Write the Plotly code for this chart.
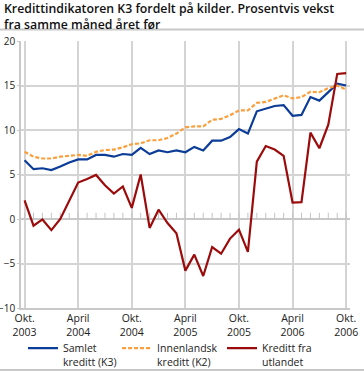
import plotly.graph_objects as go

months = list(range(37))  # Okt 2003 .. Okt 2006
tick_pos = [0, 6, 12, 18, 24, 30, 36]
tick_labels = ["Okt.<br>2003", "April<br>2004", "Okt.<br>2004", "April<br>2005",
               "Okt.<br>2005", "April<br>2006", "Okt.<br>2006"]

samlet_k3 = [6.6, 5.6, 5.7, 5.5, 5.9, 6.35, 6.7, 6.7, 7.2, 7.2, 7.0, 7.3, 7.2,
             8.0, 7.3, 7.7, 7.5, 7.7, 7.5, 8.1, 7.7, 8.8, 8.8, 9.2, 10.1, 9.6,
             12.1, 12.4, 12.7, 12.8, 11.6, 11.7, 13.7, 13.3, 14.2, 15.2, 15.0]
innenlandsk_k2 = [7.55, 7.0, 6.8, 6.8, 7.0, 7.1, 7.2, 7.1, 7.55, 7.75, 7.8, 8.05, 8.4,
                  8.5, 8.85, 8.85, 9.1, 9.6, 10.3, 10.4, 10.4, 11.15, 11.25, 11.65, 12.2, 12.2,
                  13.05, 13.15, 13.5, 13.9, 13.55, 13.7, 14.3, 14.25, 14.7, 15.0, 14.55]
utlandet = [2.1, -0.75, -0.05, -1.25, 0.0, 2.1, 4.1, 4.5, 4.95, 3.8, 2.85, 3.65, 1.25,
            5.0, -1.0, 1.05, -0.45, -1.6, -5.8, -4.0, -6.4, -3.15, -3.9, -2.2, -1.2, -3.7,
            6.45, 8.2, 7.8, 7.1, 1.85, 1.9, 9.7, 7.95, 10.6, 16.3, 16.4]

names = ["Samlet<br>kreditt (K3)", "Innenlandsk<br>kreditt (K2)", "Kreditt fra<br>utlandet"]
colors = ["#0b3c97", "#fa9f3c", "#9b0b0b"]
title_text = "Kredittindikatoren K3 fordelt på kilder. Prosentvis vekst<br>fra samme måned året før"

FONT = "Open Sans"
grid = "#d4d4d4"

fig = go.Figure()
# month tick marks standing on the zero line (category axis ticks of the original)
fig.add_trace(go.Scatter(x=months, y=[0] * len(months), mode="markers", showlegend=False,
                         hoverinfo="skip", marker=dict(size=1, opacity=0),
                         error_y=dict(type="constant", value=0.7, valueminus=0, symmetric=False,
                                      color="#c4c4c4", thickness=1, width=0)))
fig.add_trace(go.Scatter(x=months, y=samlet_k3, mode="lines", name=names[0], legend="legend",
                         line=dict(color=colors[0], width=2.2)))
fig.add_trace(go.Scatter(x=months, y=innenlandsk_k2, mode="lines", name=names[1], legend="legend2",
                         line=dict(color=colors[1], width=2.2, dash="4px,2px")))
fig.add_trace(go.Scatter(x=months, y=utlandet, mode="lines", name=names[2], legend="legend3",
                         line=dict(color=colors[2], width=2.2)))

leg_common = dict(orientation="h", xanchor="left", y=-0.10, yanchor="top", valign="top",
                  font=dict(family=FONT, size=10.5, color="#222"), bgcolor="rgba(0,0,0,0)")

xr = [-0.4, 36.43]
fig.update_layout(
    width=364, height=371,
    margin=dict(l=21, r=14, t=41, b=63, autoexpand=False),
    paper_bgcolor="white", plot_bgcolor="white",
    font=dict(family=FONT, size=10, color="#222"),
    xaxis=dict(range=xr, tickvals=tick_pos, ticktext=tick_labels, showgrid=True,
               gridcolor=grid, gridwidth=1.5, zeroline=False, showline=True,
               linecolor="#c8c8c8", linewidth=1.5, ticks="", fixedrange=True,
               tickfont=dict(size=10.5)),
    yaxis=dict(range=[-10, 20], dtick=5, showgrid=True, gridcolor=grid, gridwidth=1.5,
               zeroline=True, zerolinecolor="#c8c8c8", zerolinewidth=1.5,
               showline=True, linecolor="#c8c8c8", linewidth=1.5,
               ticks="outside", ticklen=2, tickcolor="#c8c8c8", tickfont=dict(size=10)),
    legend=dict(x=0.006, **leg_common),
    legend2=dict(x=0.292, **leg_common),
    legend3=dict(x=0.611, **leg_common),
    annotations=[
        dict(text=title_text, xref="paper", yref="paper", x=-0.057, y=1.16,
             xanchor="left", yanchor="top", align="left", showarrow=False,
             font=dict(family=FONT, size=12.3, weight=600, color="#111")),
    ],
    shapes=[
        dict(type="line", xref="paper", yref="paper", x0=-0.07, x1=1.05, y0=1.043, y1=1.043,
             line=dict(color="#c8c8c8", width=2)),
        dict(type="line", xref="paper", yref="paper", x0=-0.07, x1=1.05, y0=-0.232, y1=-0.232,
             line=dict(color="#c8c8c8", width=2)),
    ],
)

fig.write_html("out.html", config={"displayModeBar": False},
               post_script="document.body.style.margin='0';")
